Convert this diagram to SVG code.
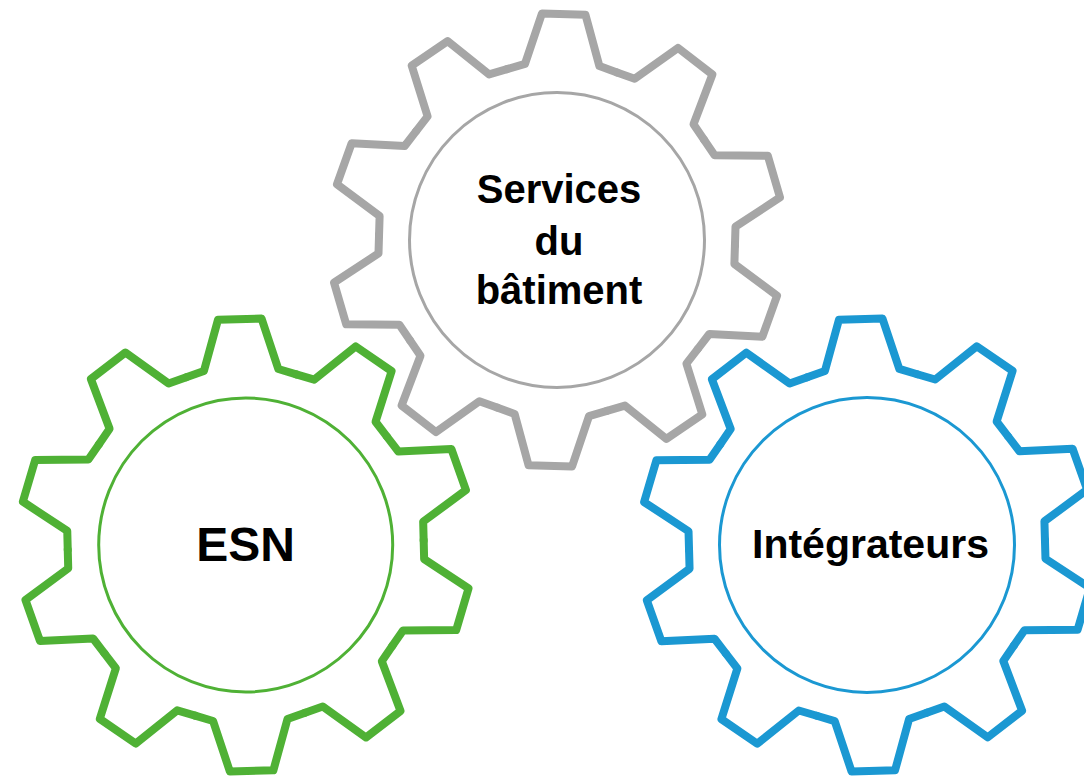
<svg xmlns="http://www.w3.org/2000/svg" xmlns:xlink="http://www.w3.org/1999/xlink" width="1084" height="777" viewBox="0 0 1084 777">
  <style>
    .tooth { fill: none; stroke-width: 8; stroke-linejoin: round; stroke-linecap: round; }
    .hub { fill: none; stroke-width: 3; }
    .label { font-family: "Liberation Sans", Arial, Helvetica, sans-serif; font-weight: bold; fill: #000; text-anchor: middle; }
    .gray { stroke: #a6a6a6; }
    .green { stroke: #4fb135; }
    .blue { stroke: #1b98d2; }
  </style>
  <defs>
    <path id="tooth" d="M -55.01 -169.31 L -37.22 -175.09 L -21.76 -225.96 L 21.76 -225.96 L 37.22 -175.09 L 55.01 -169.31"/>
    <g id="gear">
      <use xlink:href="#tooth" href="#tooth"/>
      <use xlink:href="#tooth" href="#tooth" transform="rotate(36)"/>
      <use xlink:href="#tooth" href="#tooth" transform="rotate(72)"/>
      <use xlink:href="#tooth" href="#tooth" transform="rotate(108)"/>
      <use xlink:href="#tooth" href="#tooth" transform="rotate(144)"/>
      <use xlink:href="#tooth" href="#tooth" transform="rotate(180)"/>
      <use xlink:href="#tooth" href="#tooth" transform="rotate(216)"/>
      <use xlink:href="#tooth" href="#tooth" transform="rotate(252)"/>
      <use xlink:href="#tooth" href="#tooth" transform="rotate(288)"/>
      <use xlink:href="#tooth" href="#tooth" transform="rotate(324)"/>
    </g>
  </defs>
  <rect x="0" y="0" width="1084" height="777" fill="#ffffff"/>

  <g id="services-batiment">
    <use xlink:href="#gear" href="#gear" class="tooth gray" transform="translate(557 240) rotate(1.7)"/>
    <circle class="hub gray" cx="557" cy="240" r="147.5"/>
    <text class="label" font-size="40" x="559" y="203">Services</text>
    <text class="label" font-size="40" x="559" y="255">du</text>
    <text class="label" font-size="40" x="559" y="304">bâtiment</text>
  </g>

  <g id="esn">
    <use xlink:href="#gear" href="#gear" class="tooth green" transform="translate(245.7 545) rotate(-1.5)"/>
    <circle class="hub green" cx="245.7" cy="545" r="147"/>
    <text class="label" font-size="48" x="245.5" y="561">ESN</text>
  </g>

  <g id="integrateurs">
    <use xlink:href="#gear" href="#gear" class="tooth blue" transform="translate(867 545) rotate(-1.6)"/>
    <circle class="hub blue" cx="867" cy="545" r="147.5"/>
    <text class="label" font-size="41" x="870.5" y="558">Intégrateurs</text>
  </g>

  <g id="connectors"></g>
</svg>
